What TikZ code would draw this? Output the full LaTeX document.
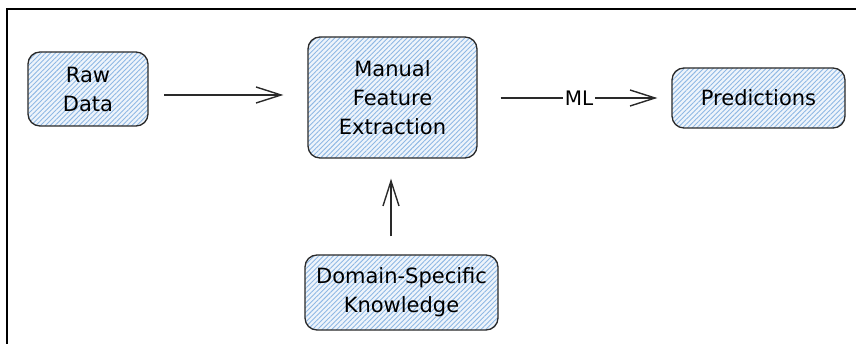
\documentclass[tikz,border=0pt]{standalone}
\usepackage{fontspec}
\setmainfont{DejaVu Sans}
\usetikzlibrary{arrows.meta,patterns.meta}
\definecolor{hatch}{HTML}{8FB8E4}
\definecolor{bgfill}{HTML}{EEF4FB}
\definecolor{stroke}{HTML}{2A2A2A}
\tikzset{
  box/.style={draw=stroke, line width=1.3pt, rounded corners=12pt,
    preaction={fill=bgfill},
    pattern={Lines[angle=45,distance=3.4pt,line width=0.9pt]}, pattern color=hatch,
    align=center, inner sep=0pt, text=black,
    font=\fontsize{21}{29}\selectfont},
  arr/.style={draw=stroke, line width=1.4pt, -{Straight Barb[length=25pt,width=16pt,line width=1.4pt]}},
  lbl/.style={fill=white, inner sep=2pt, text=black, font=\fontsize{20}{24}\selectfont}
}
\begin{document}
\begin{tikzpicture}[x=1pt,y=-1pt]
\useasboundingbox (0,0) rectangle (856,344);
\draw[line width=2pt, black] (7,350) -- (7,9) -- (862,9);
\node[box, minimum width=120pt, minimum height=74pt] (raw) at (88,89) {Raw\\Data};
\node[box, minimum width=169pt, minimum height=121pt] (man) at (392.5,97.5) {Manual\\Feature\\Extraction};
\node[box, minimum width=173pt, minimum height=60pt] (pred) at (758.5,98) {Predictions};
\node[box, minimum width=193pt, minimum height=75pt] (dom) at (401.5,292.5) {Domain-Specific\\Knowledge};
\draw[arr] ([shift={(16,6)}]raw.east) -- ([shift={(-24,-2.5)}]man.west);
\draw[arr] ([shift={(23,0.5)}]man.east) -- node[lbl] (ml) {ML} ([shift={(-14,0)}]pred.west);
\draw[arr] ([shift={(-10.5,-18)}]dom.north) -- ([shift={(-1.5,20)}]man.south);
\end{tikzpicture}
\end{document}
